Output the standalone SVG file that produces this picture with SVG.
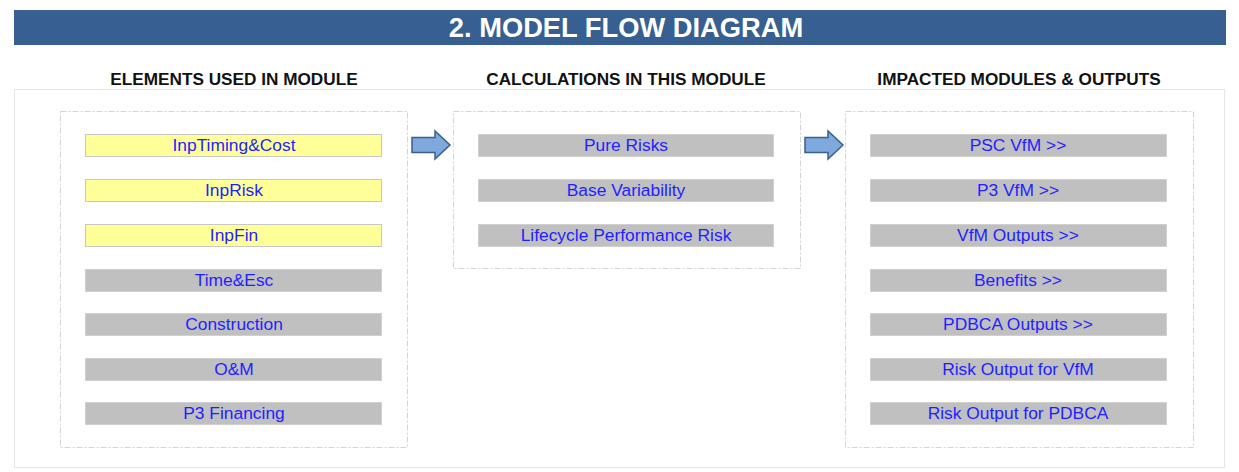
<svg xmlns="http://www.w3.org/2000/svg" width="1239" height="472" viewBox="0 0 1239 472">
<style>
.t{font-family:"Liberation Sans",Arial,sans-serif;font-size:17.4px;fill:#1f1fff;text-anchor:middle}
.h{font-family:"Liberation Sans",Arial,sans-serif;font-size:17.2px;font-weight:bold;fill:#111;text-anchor:middle}
.y{fill:#ffff99;stroke:#c8c8c8;stroke-width:1}
.g{fill:#c0c0c0;stroke:#d0d0d0;stroke-width:1}
.d{fill:#fff;stroke:#d4d4d4;stroke-width:1;stroke-dasharray:6 2 2 2}
.ar{fill:#7fa8dc;stroke:#3a5f8c;stroke-width:1.5}
</style>
<rect width="1239" height="472" fill="#fff"/>
<rect x="14" y="10" width="1212" height="35" fill="#375f91"/>
<text x="626" y="37" font-family="Liberation Sans,Arial,sans-serif" font-size="27.3" font-weight="bold" fill="#fff" text-anchor="middle">2. MODEL FLOW DIAGRAM</text>
<text class="h" x="234" y="85">ELEMENTS USED IN MODULE</text>
<text class="h" x="626" y="85">CALCULATIONS IN THIS MODULE</text>
<text class="h" x="1019" y="85">IMPACTED MODULES &amp; OUTPUTS</text>
<rect x="14.5" y="89.5" width="1210" height="378" fill="#fff" stroke="#e6e6e6"/>
<rect class="d" x="60.5" y="111.5" width="347" height="336"/>
<rect class="d" x="453.5" y="111.5" width="347" height="157"/>
<rect class="d" x="845.5" y="111.5" width="348" height="336"/>
<g id="connectors">
<path class="ar" d="M412,137.5 H435 V131 L450,145 L435,159 V152.5 H412 Z"/>
<path class="ar" d="M805,137.5 H828 V131 L843,145 L828,159 V152.5 H805 Z"/>
</g>
<g id="n1"><rect class="y" x="85.5" y="134.5" width="296" height="22"/><text class="t" x="234" y="151">InpTiming&amp;Cost</text></g>
<g id="n2"><rect class="y" x="85.5" y="179.5" width="296" height="22"/><text class="t" x="234" y="196">InpRisk</text></g>
<g id="n3"><rect class="y" x="85.5" y="224.5" width="296" height="22"/><text class="t" x="234" y="241">InpFin</text></g>
<g id="n4"><rect class="g" x="85.5" y="269.5" width="296" height="22"/><text class="t" x="234" y="286">Time&amp;Esc</text></g>
<g id="n5"><rect class="g" x="85.5" y="313.5" width="296" height="22"/><text class="t" x="234" y="330">Construction</text></g>
<g id="n6"><rect class="g" x="85.5" y="358.5" width="296" height="22"/><text class="t" x="234" y="375">O&amp;M</text></g>
<g id="n7"><rect class="g" x="85.5" y="402.5" width="296" height="22"/><text class="t" x="234" y="419">P3 Financing</text></g>
<g id="c1"><rect class="g" x="478.5" y="134.5" width="295" height="22"/><text class="t" x="626" y="151">Pure Risks</text></g>
<g id="c2"><rect class="g" x="478.5" y="179.5" width="295" height="22"/><text class="t" x="626" y="196">Base Variability</text></g>
<g id="c3"><rect class="g" x="478.5" y="224.5" width="295" height="22"/><text class="t" x="626" y="241">Lifecycle Performance Risk</text></g>
<g id="o1"><rect class="g" x="870.5" y="134.5" width="296" height="22"/><text class="t" x="1018" y="151">PSC VfM &gt;&gt;</text></g>
<g id="o2"><rect class="g" x="870.5" y="179.5" width="296" height="22"/><text class="t" x="1018" y="196">P3 VfM &gt;&gt;</text></g>
<g id="o3"><rect class="g" x="870.5" y="224.5" width="296" height="22"/><text class="t" x="1018" y="241">VfM Outputs &gt;&gt;</text></g>
<g id="o4"><rect class="g" x="870.5" y="269.5" width="296" height="22"/><text class="t" x="1018" y="286">Benefits &gt;&gt;</text></g>
<g id="o5"><rect class="g" x="870.5" y="313.5" width="296" height="22"/><text class="t" x="1018" y="330">PDBCA Outputs &gt;&gt;</text></g>
<g id="o6"><rect class="g" x="870.5" y="358.5" width="296" height="22"/><text class="t" x="1018" y="375">Risk Output for VfM</text></g>
<g id="o7"><rect class="g" x="870.5" y="402.5" width="296" height="22"/><text class="t" x="1018" y="419">Risk Output for PDBCA</text></g>
</svg>
